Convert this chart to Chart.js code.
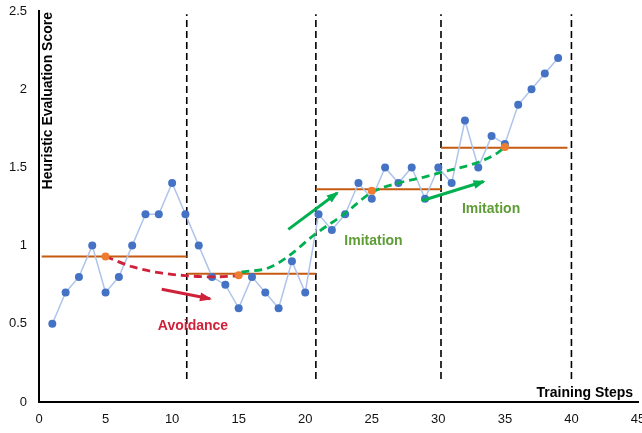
<!DOCTYPE html>
<html><head><meta charset="utf-8">
<script src="https://cdn.jsdelivr.net/npm/chart.js@4/dist/chart.umd.min.js"></script>
<style>html,body{margin:0;padding:0;background:#fff}#wrap{width:642px;height:433px;position:relative}</style>
</head><body><div id="wrap"><canvas id="c"></canvas></div>
<script>
// ---- data ----
const steps = [1,2,3,4,5,6,7,8,9,10,11,12,13,14,15,16,17,18,19,20,21,22,23,24,25,26,27,28,29,30,31,32,33,34,35,36,37,38,39];
const scores = [0.5,0.7,0.8,1.0,0.7,0.8,1.0,1.2,1.2,1.4,1.2,1.0,0.8,0.75,0.6,0.8,0.7,0.6,0.9,0.7,1.2,1.1,1.2,1.4,1.3,1.5,1.4,1.5,1.3,1.5,1.4,1.8,1.5,1.7,1.65,1.9,2.0,2.1,2.2];
const phaseBounds = [11.1, 20.8, 30.2, 40];
const meanStart = [0.2, 11.1, 20.8, 30.2];
const meanEnd = [11.1, 20.8, 30.2, 39.7];
const meanValue = [0.93, 0.82, 1.36, 1.625];
const anchorX = [5, 15, 25, 35];
const anchorY = [0.93, 0.81, 1.35, 1.63];
const avoidX = [5, 7, 9, 11, 13, 15];
const avoidY = [0.93, 0.865, 0.827, 0.808, 0.80, 0.806];
const imitX = [15.2, 17.3, 18.7, 20.7, 22.9, 25, 27, 29, 30.3, 32.9, 34.4, 35];
const imitY = [0.83, 0.86, 0.93, 1.07, 1.2, 1.34, 1.40, 1.44, 1.47, 1.53, 1.59, 1.63];
const arrowX0 = [9.22, 18.73, 28.75];
const arrowY0 = [0.721, 1.104, 1.287];
const arrowX1 = [12.85, 22.4, 33.4];
const arrowY1 = [0.66, 1.336, 1.41];
const arrowColor = ['#d0213a', '#00b050', '#00b050'];
const labelText = ['Avoidance', 'Imitation', 'Imitation'];
const labelX = [11.57, 25.13, 33.96];
const labelY = [0.486, 1.03, 1.234];
const labelColor = ['#d0213a', '#5e9c35', '#5e9c35'];
const xTicks = [0, 5, 10, 15, 20, 25, 30, 35, 40, 45];
const yTicks = [0, 0.5, 1, 1.5, 2, 2.5];
const xTitle = 'Training Steps';
const yTitle = 'Heuristic Evaluation Score';
const vLineLow = 0.147, vLineHigh = 2.48;

const pts = (xs, ys) => xs.map((x, i) => ({x, y: ys[i]}));
const FONT = "'Liberation Sans', Arial, sans-serif";

const datasets = [];
datasets.push({data: pts(anchorX, anchorY), showLine: false, pointRadius: 4, pointBackgroundColor: '#ed7d31', pointBorderWidth: 0, order: 0});
datasets.push({data: pts(avoidX, avoidY), showLine: true, borderColor: '#d0213a', borderWidth: 2.8, borderDash: [8, 5], pointRadius: 0, cubicInterpolationMode: 'monotone', order: 1});
datasets.push({data: pts(imitX, imitY), showLine: true, borderColor: '#00b050', borderWidth: 2.8, borderDash: [8, 5], pointRadius: 0, cubicInterpolationMode: 'monotone', order: 1});
for (let i = 0; i < arrowX0.length; i++) {
  datasets.push({data: [{x: arrowX0[i], y: arrowY0[i]}, {x: arrowX1[i], y: arrowY1[i]}], showLine: true, borderColor: arrowColor[i], borderWidth: 3, pointRadius: 0, order: 1});
}
datasets.push({data: pts(steps, scores), showLine: true, borderColor: '#afc4eb', borderWidth: 1.5, pointRadius: 4, pointBackgroundColor: '#4472c4', pointBorderWidth: 0, tension: 0, order: 2});
for (let i = 0; i < meanValue.length; i++) {
  datasets.push({data: [{x: meanStart[i], y: meanValue[i]}, {x: meanEnd[i], y: meanValue[i]}], showLine: true, borderColor: '#c55a11', borderWidth: 2, pointRadius: 0, order: 3});
}
for (let i = 0; i < phaseBounds.length; i++) {
  datasets.push({data: [{x: phaseBounds[i], y: vLineLow}, {x: phaseBounds[i], y: vLineHigh}], showLine: true, borderColor: '#000', borderWidth: 1.6, borderDash: [7, 4], pointRadius: 0, order: 5});
}

const annotate = {
  id: 'annotate',
  afterDatasetsDraw(chart) {
    const {ctx, scales: {x, y}, chartArea: ca} = chart;
    ctx.save();
    for (let i = 0; i < arrowX0.length; i++) {
      const x0 = x.getPixelForValue(arrowX0[i]), y0 = y.getPixelForValue(arrowY0[i]);
      const x1 = x.getPixelForValue(arrowX1[i]), y1 = y.getPixelForValue(arrowY1[i]);
      const a = Math.atan2(y1 - y0, x1 - x0);
      const L = 10, W = 4.5;
      ctx.fillStyle = arrowColor[i];
      ctx.beginPath();
      ctx.moveTo(x1 + 2 * Math.cos(a), y1 + 2 * Math.sin(a));
      ctx.lineTo(x1 - L * Math.cos(a) + W * Math.sin(a), y1 - L * Math.sin(a) - W * Math.cos(a));
      ctx.lineTo(x1 - L * Math.cos(a) - W * Math.sin(a), y1 - L * Math.sin(a) + W * Math.cos(a));
      ctx.closePath();
      ctx.fill();
    }
    ctx.font = 'bold 14px ' + FONT;
    ctx.textAlign = 'center';
    ctx.textBaseline = 'middle';
    for (let i = 0; i < labelText.length; i++) {
      ctx.fillStyle = labelColor[i];
      ctx.fillText(labelText[i], x.getPixelForValue(labelX[i]), y.getPixelForValue(labelY[i]));
    }
    ctx.fillStyle = '#000';
    ctx.font = 'bold 14px ' + FONT;
    ctx.textAlign = 'right';
    ctx.fillText(xTitle, ca.right - 5, ca.bottom - 9);
    ctx.translate(ca.left + 9, ca.top + 1);
    ctx.rotate(-Math.PI / 2);
    ctx.textAlign = 'right';
    ctx.fillText(yTitle, 0, 0);
    ctx.restore();
  }
};

new Chart(document.getElementById('c'), {
  type: 'scatter',
  data: {datasets},
  options: {
    responsive: true,
    maintainAspectRatio: false,
    animation: false,
    layout: {padding: {left: 0, right: 4, top: 11, bottom: 0}},
    plugins: {legend: {display: false}, tooltip: {enabled: false}},
    scales: {
      x: {
        type: 'linear', min: 0, max: 45,
        afterBuildTicks: s => { s.ticks = xTicks.map(v => ({value: v})); },
        afterFit: s => { s.height = 31; s.paddingLeft = 0; s.paddingRight = 0; },
        grid: {display: false, drawTicks: false},
        border: {display: true, color: '#000', width: 2},
        ticks: {padding: 10, color: '#111', font: {family: FONT, size: 13}, maxRotation: 0, autoSkip: false, callback: v => String(v)}
      },
      y: {
        type: 'linear', min: 0, max: 2.5,
        afterBuildTicks: s => { s.ticks = yTicks.map(v => ({value: v})); },
        afterFit: s => { s.width = 39; s.paddingTop = 0; s.paddingBottom = 0; },
        grid: {display: false, drawTicks: false},
        border: {display: true, color: '#000', width: 2},
        ticks: {padding: 12, color: '#111', font: {family: FONT, size: 13}, autoSkip: false, callback: v => String(v)}
      }
    }
  },
  plugins: [annotate]
});
</script>
</body></html>
